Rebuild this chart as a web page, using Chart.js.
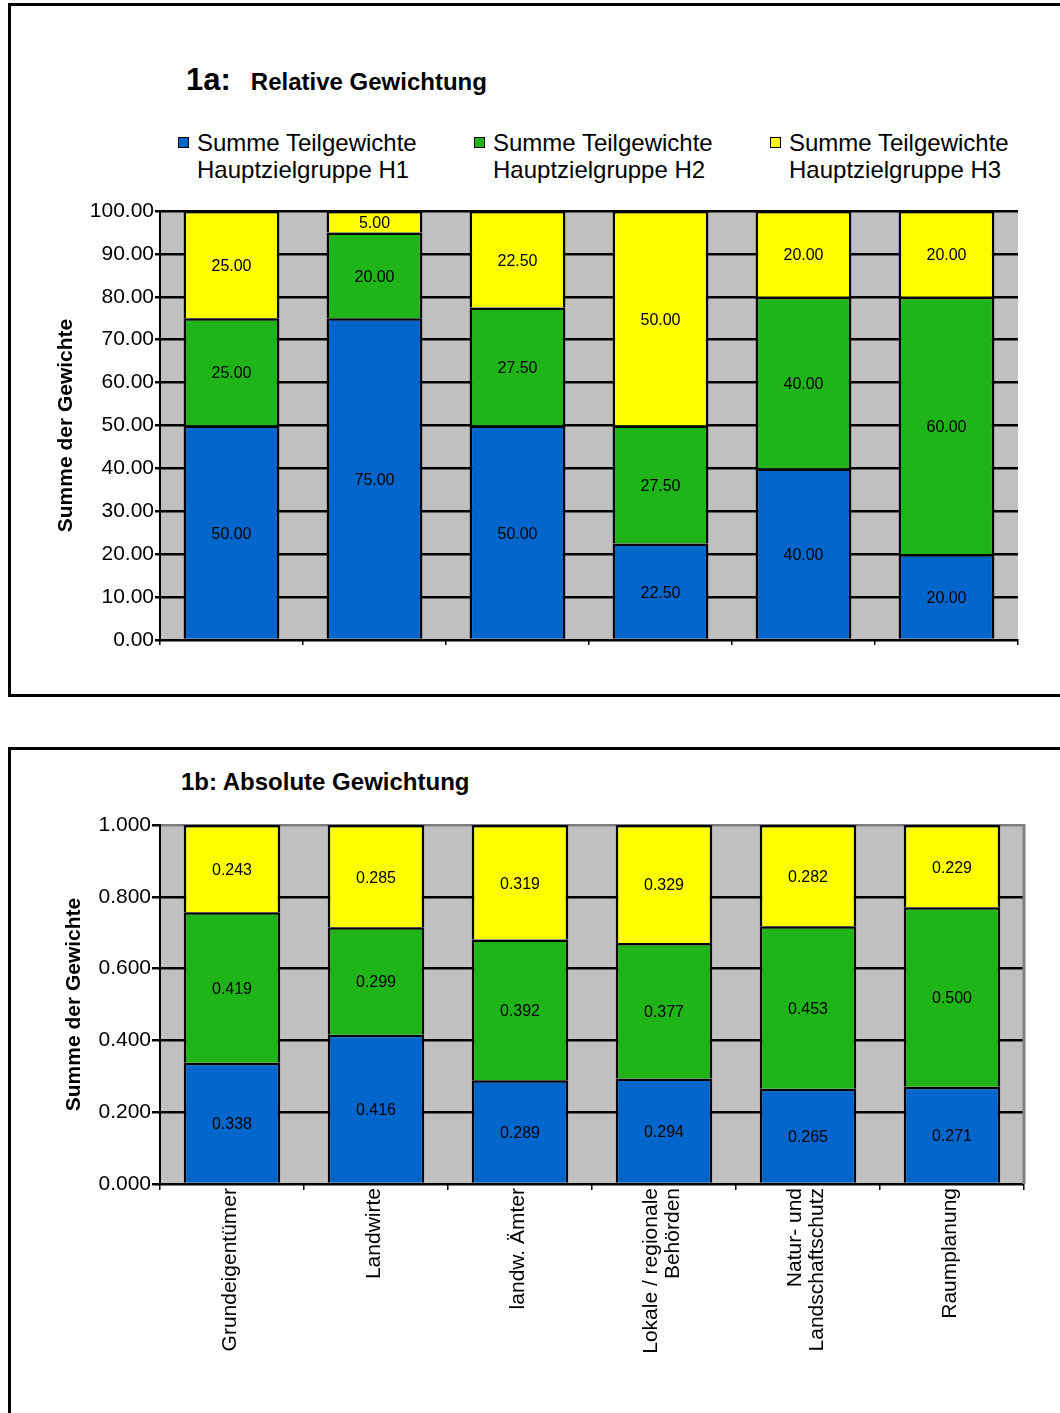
<!DOCTYPE html>
<html>
<head>
<meta charset="utf-8">
<script src="https://cdn.jsdelivr.net/npm/chart.js@4"></script>
<style>
  body { margin: 0; width: 1060px; height: 1413px; overflow: hidden; position: relative; background: #fff;
         font-family: Arial, "Liberation Sans", sans-serif; color: #000; }
  .box { position: absolute; left: 8px; width: 1100px; border: 3px solid #000; }
  #box1 { top: 3px; height: 688px; }
  #box2 { top: 747px; height: 720px; }
  canvas { position: absolute; left: 0; }
  #c1 { top: 0; }
  #c2 { top: 748px; }
  .title { position: absolute; font-weight: bold; white-space: nowrap; line-height: normal; }
  .legend-item { position: absolute; top: 129px; font-size: 24px; line-height: 27px; padding-left: 19px; white-space: nowrap; }
  .legend-item i { position: absolute; left: 0; top: 8px; width: 9px; height: 9px; border: 1.5px solid #000; }
</style>
</head>
<body>
<div class="box" id="box1"></div>
<div class="box" id="box2"></div>

<div class="title" style="left:186px; top:62px;"><span style="font-size:31px">1a:</span><span style="font-size:24px; margin-left:20px">Relative Gewichtung</span></div>
<div class="title" style="left:181px; top:768px; font-size:24px;">1b: Absolute Gewichtung</div>
<div id="legend"></div>

<canvas id="c1" width="1060" height="700"></canvas>
<canvas id="c2" width="1060" height="665"></canvas>

<script>
// categories (x axis of 1b, shared with 1a)
const categories = ['Grundeigentümer', 'Landwirte', 'landw. Ämter',
  ['Lokale / regionale', 'Behörden'], ['Natur- und', 'Landschaftschutz'], 'Raumplanung'];

const seriesNames = [
  ['Summe Teilgewichte', 'Hauptzielgruppe H1'],
  ['Summe Teilgewichte', 'Hauptzielgruppe H2'],
  ['Summe Teilgewichte', 'Hauptzielgruppe H3']
];

// 1a: relative weights (%)
const relH1 = [50.00, 75.00, 50.00, 22.50, 40.00, 20.00];
const relH2 = [25.00, 20.00, 27.50, 27.50, 40.00, 60.00];
const relH3 = [25.00, 5.00, 22.50, 50.00, 20.00, 20.00];

// 1b: absolute weights
const absH1 = [0.338, 0.416, 0.289, 0.294, 0.265, 0.271];
const absH2 = [0.419, 0.299, 0.392, 0.377, 0.453, 0.500];
const absH3 = [0.243, 0.285, 0.319, 0.329, 0.282, 0.229];

const colors = ['#0066CC', '#1FB418', '#FFFF00'];
const FONT = 'Arial, "Liberation Sans", sans-serif';

// gray plot background + optional gray right edge
const plotFrame = {
  id: 'plotFrame',
  beforeDraw(chart) {
    const { ctx, chartArea: a } = chart;
    ctx.save();
    ctx.fillStyle = '#C0C0C0';
    ctx.fillRect(a.left, a.top, a.right - a.left, a.bottom - a.top);
    ctx.restore();
  },
  beforeDatasetsDraw(chart, args, opts) {
    if (!opts.rightEdge) return;
    const { ctx, chartArea: a } = chart;
    ctx.save();
    ctx.strokeStyle = '#808080';
    ctx.lineWidth = 3;
    ctx.beginPath();
    ctx.moveTo(a.right, a.top - 1);
    ctx.lineTo(a.right, a.bottom);
    ctx.stroke();
    ctx.restore();
  }
};

// value labels in the middle of each segment
const valueLabels = {
  id: 'valueLabels',
  afterDatasetsDraw(chart, args, opts) {
    const ctx = chart.ctx;
    ctx.save();
    ctx.font = '16px ' + FONT;
    ctx.fillStyle = '#000';
    ctx.textAlign = 'center';
    ctx.textBaseline = 'middle';
    chart.data.datasets.forEach((ds, i) => {
      chart.getDatasetMeta(i).data.forEach((bar, j) => {
        ctx.fillText(ds.data[j].toFixed(opts.digits), bar.x, (bar.y + bar.base) / 2 + 2);
      });
    });
    ctx.restore();
  }
};

// vertical category labels, multi-line ones centred on the tick
const xLabels = {
  id: 'xLabels',
  afterDraw(chart, args, opts) {
    if (!opts.show) return;
    const scale = chart.scales.x;
    const ctx = chart.ctx;
    const lh = 22;
    ctx.save();
    ctx.font = '21px ' + FONT;
    ctx.fillStyle = '#000';
    ctx.textAlign = 'right';
    ctx.textBaseline = 'middle';
    chart.data.labels.forEach((lab, i) => {
      const lines = [].concat(lab);
      const x0 = scale.getPixelForTick(i) - (lines.length - 1) * lh / 2 - 2;
      lines.forEach((t, k) => {
        ctx.save();
        ctx.translate(x0 + k * lh, scale.top + 4);
        ctx.rotate(-Math.PI / 2);
        ctx.fillText(t, 0, 0);
        ctx.restore();
      });
    });
    ctx.restore();
  }
};

function datasets(series) {
  return series.map((data, i) => ({
    label: seriesNames[i].join(' '),
    data: data,
    backgroundColor: colors[i],
    borderColor: '#000',
    borderWidth: 2.5,
    categoryPercentage: 1,
    barPercentage: 0.67
  }));
}

function makeChart(id, series, o) {
  return new Chart(document.getElementById(id), {
    type: 'bar',
    data: { labels: categories, datasets: datasets(series) },
    options: {
      responsive: false,
      animation: false,
      layout: { padding: { left: 0, top: o.top, right: o.right, bottom: 0 } },
      plugins: {
        legend: { display: false },
        tooltip: { enabled: false },
        valueLabels: { digits: o.digits },
        plotFrame: { rightEdge: o.rightEdge },
        xLabels: { show: o.xLabels }
      },
      scales: {
        x: {
          stacked: true,
          afterFit: s => { s.height = o.xHeight; },
          border: { color: '#000', width: 2 },
          grid: { drawOnChartArea: false, color: '#000', lineWidth: 1.5, tickLength: o.xTick },
          ticks: { display: false }
        },
        y: {
          stacked: true,
          min: 0, max: o.max,
          afterFit: s => { s.width = 160; },
          border: { color: '#000', width: 2 },
          grid: {
            color: c => (o.grayTop && c.tick && c.tick.value === o.max) ? '#808080' : '#000',
            tickColor: '#000',
            lineWidth: 2.5,
            tickLength: o.yTick
          },
          ticks: {
            stepSize: o.step,
            color: '#000',
            padding: 1,
            font: { family: FONT, size: 21 },
            callback: v => v.toFixed(o.digits)
          },
          title: {
            display: true,
            text: 'Summe der Gewichte',
            color: '#000',
            font: { family: FONT, size: 21, weight: 'bold' },
            padding: { top: o.titlePad, bottom: 0 }
          }
        }
      }
    },
    plugins: [plotFrame, valueLabels, xLabels]
  });
}

const chart1 = makeChart('c1', [relH1, relH2, relH3], {
  top: 211, right: 42, xHeight: 60, xTick: 5, xLabels: false,
  max: 100, step: 10, digits: 2, yTick: 5, titlePad: 54, grayTop: false, rightEdge: false
});

const chart2 = makeChart('c2', [absH1, absH2, absH3], {
  top: 77, right: 36, xHeight: 229, xTick: 6, xLabels: true,
  max: 1, step: 0.2, digits: 3, yTick: 8, titlePad: 62, grayTop: true, rightEdge: true
});

// legend for 1a, built from the chart's datasets
const legend = document.getElementById('legend');
chart1.data.datasets.forEach((ds, i) => {
  const item = document.createElement('div');
  item.className = 'legend-item';
  item.style.left = (178 + i * 296) + 'px';
  item.innerHTML = '<i style="background:' + ds.backgroundColor + '"></i>' + seriesNames[i].join('<br>');
  legend.appendChild(item);
});
</script>
</body>
</html>
